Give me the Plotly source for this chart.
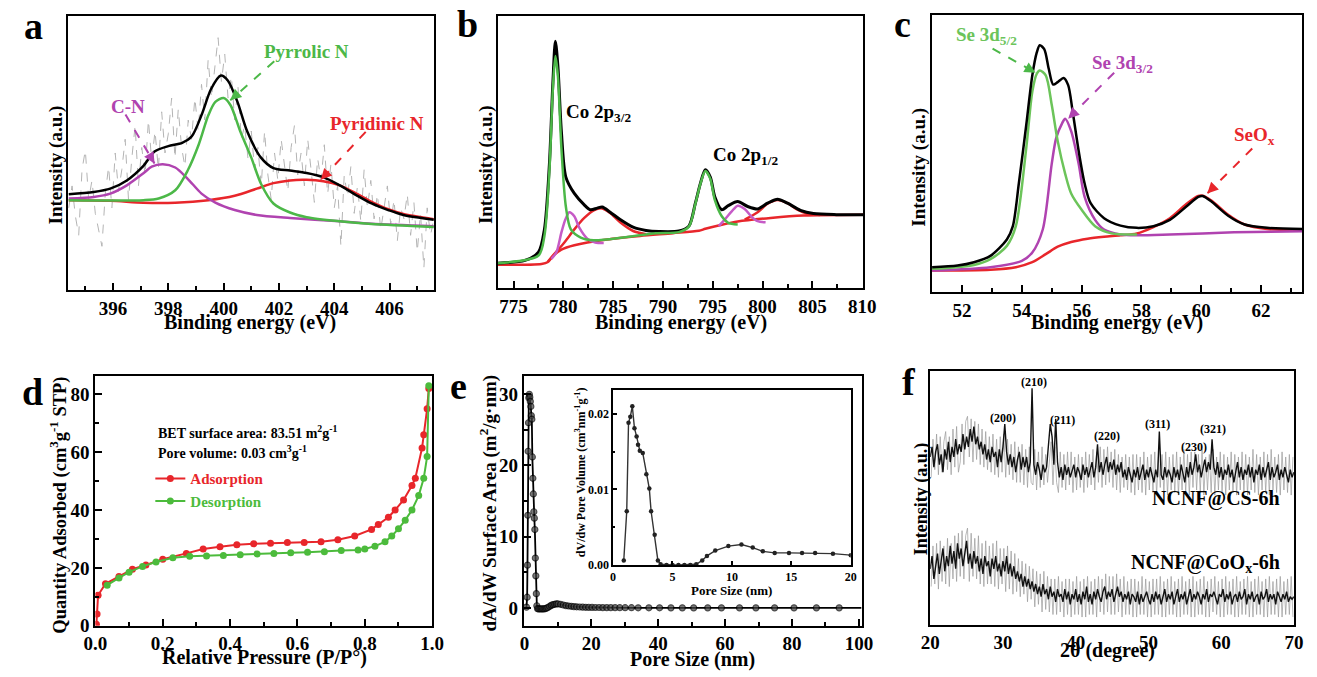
import plotly.graph_objects as go

W, H = 1317, 677
SERIF = "Liberation Serif, Times New Roman, serif"
GREEN = "#4cb848"
MAGENTA = "#b043b0"
RED = "#e8262b"

# ---------------- (a) N 1s ----------------
n1s_raw_start, n1s_raw_step = 394.4, 0.12
n1s_raw = [30, 38, 27, 20, 44, 51, 33, 40, 28, 22, 16, 35, 45, 30, 50, 36, 44, 55, 33, 48,
           60, 38, 52, 42, 62, 47, 58, 44, 65, 50, 57, 70, 48, 66, 52, 45, 62, 55, 70, 58,
           75, 62, 84, 70, 80, 92, 76, 86, 70, 78, 62, 74, 55, 60, 48, 58, 44, 52, 38, 58,
           42, 33, 50, 40, 55, 45, 36, 52, 60, 42, 50, 38, 55, 44, 32, 48, 40, 53, 35, 46,
           30, 38, 16, 42, 34, 45, 28, 38, 25, 44, 30, 40, 26, 35, 22, 30, 38, 24, 33, 18,
           30, 26, 35, 20, 32, 14, 28, 8, 30, 20, 26]
n1s_env_x = [394.4, 395.3, 395.9, 396.5, 397.1, 397.5, 398.0, 398.5, 398.85, 399.2, 399.55, 399.9,
             400.15, 400.5, 400.85, 401.35, 401.8, 402.4, 403.0, 403.6, 404.2, 404.8, 405.35,
             405.95, 406.5, 407.6]
n1s_env_y = [35.0, 35.8, 37.0, 40.0, 45.3, 50.5, 52.5, 53.7, 56.1, 63.8, 73.4, 78.2,
             76.4, 68.6, 57.9, 48.3, 44.5, 43.6, 42.7, 41.2, 38.2, 34.6, 31.6, 29.2, 27.4, 25.7]
pyrrolic_x = [394.4, 397.1, 397.65, 398.25, 398.7, 399.1, 399.45, 399.7, 400.0, 400.25, 400.6,
              401.0, 401.35, 401.8, 402.4, 403.0, 404.2, 405.35, 407.6]
pyrrolic_y = [32.8, 32.8, 33.4, 36.4, 43.6, 53.1, 63.8, 68.6, 70.0, 67.4, 57.9,
              48.3, 38.8, 31.6, 28.3, 26.6, 25.1, 24.1, 23.0]
cn_x = [394.4, 395.3, 395.9, 396.5, 397.1, 397.4, 397.8, 398.25, 398.7, 399.2, 399.7, 400.4,
        401.2, 402.4, 404.2, 405.35, 407.6]
cn_y = [33.4, 34.0, 35.2, 38.2, 42.6, 45.0, 45.9, 44.7, 40.6, 35.2, 31.9, 29.2,
        27.4, 26.3, 25.1, 24.2, 23.3]
pyridinic_x = [394.4, 395.9, 397.1, 398.25, 399.45, 400.4, 401.2, 401.8, 402.4, 403.0, 403.6,
               404.2, 404.8, 405.35, 405.95, 406.5, 407.6]
pyridinic_y = [32.8, 32.6, 31.9, 31.9, 32.8, 34.4, 37.0, 39.0, 40.0, 40.2, 39.7,
               38.2, 35.2, 32.2, 29.5, 27.8, 25.9]

# ---------------- (b) Co 2p ----------------
co_env_x = [773.4, 776.15, 777.5, 778.1, 778.6, 778.95, 779.2, 779.45, 779.8, 780.25, 781.1,
            782.1, 782.7, 783.4, 783.9, 784.7, 785.7, 787.0, 788.3, 789.6, 791.6, 792.6,
            793.25, 793.75, 794.25, 794.75, 795.2, 795.9, 796.55, 797.5, 798.5, 799.5,
            800.5, 801.5, 802.5, 803.8, 805.1, 807.4, 810.1]
co_env_y = [9.2, 10.2, 13.2, 21.6, 45.6, 75.6, 90.6, 81.6, 57.6, 40.8, 34.8,
            30.6, 28.8, 29.4, 29.8, 27.9, 25.2, 22.4, 21.2, 20.8, 21.0, 22.8,
            31.2, 38.4, 43.5, 40.8, 33.6, 28.8, 30.3, 31.8, 30.0, 29.1,
            31.2, 32.7, 31.2, 28.6, 27.4, 27.0, 27.0]
co_main_x = [773.4, 777.5, 778.1, 778.6, 778.95, 779.2, 779.45, 779.8, 780.25, 780.75, 781.75,
             783.05, 786.0, 789.3, 791.6, 792.6, 793.25, 793.75, 794.25, 794.75, 795.2,
             795.9, 796.55, 797.5]
co_main_y = [9.2, 12.0, 19.2, 43.2, 73.2, 85.2, 78.0, 51.6, 30.0, 21.6, 18.6,
             17.6, 18.6, 20.2, 20.6, 22.6, 31.0, 38.2, 43.0, 40.2, 32.4,
             26.4, 24.0, 23.4]
co_sat1_x = [778.8, 779.3, 779.8, 780.2, 780.6, 781.1, 781.6, 782.4, 783.2, 784.05]
co_sat1_y = [10.8, 13.2, 20.4, 25.2, 27.9, 26.4, 22.2, 18.2, 16.8, 16.6]
co_sat2_x = [795.6, 796.2, 796.9, 797.5, 798.2, 798.85, 799.5, 800.3]
co_sat2_y = [22.8, 25.2, 28.2, 30.3, 29.1, 26.4, 24.6, 24.2]
co_bg_x = [773.4, 777.8, 778.45, 778.95, 779.8, 781.1, 784.4, 787.7, 791.0, 793.6, 794.25,
           795.9, 797.5, 800.8, 804.1, 810.1]
co_bg_y = [8.6, 8.9, 9.6, 11.8, 14.2, 15.8, 17.9, 19.2, 20.2, 21.1, 21.8,
           23.3, 24.5, 25.8, 26.7, 27.0]
co_shk1_x = [778.45, 779.1, 780.1, 781.1, 782.1, 783.05, 783.9, 784.7, 785.7, 787.0, 788.3]
co_shk1_y = [9.8, 12.6, 16.8, 21.6, 25.8, 28.6, 29.3, 27.6, 24.2, 21.0, 19.8]
co_shk2_x = [798.2, 799.5, 800.5, 801.5, 802.5, 803.5, 804.4, 805.75]
co_shk2_y = [25.2, 27.9, 31.0, 32.4, 31.2, 28.8, 27.4, 26.9]

# ---------------- (c) Se 3d ----------------
se_env_x = [51.0, 51.85, 52.4, 52.95, 53.5, 53.7, 53.9, 54.15, 54.35, 54.5, 54.6, 54.75, 54.9,
            55.05, 55.2, 55.4, 55.55, 55.7, 55.9, 56.1, 56.3, 56.75, 57.3, 57.85, 58.4, 58.95,
            59.5, 59.9, 60.05, 60.35, 60.9, 61.45, 62.2, 63.4]
se_env_y = [8.9, 9.5, 10.7, 13.0, 18.9, 23.7, 39.1, 60.4, 78.1, 86.4, 89.0, 87.6, 80.5,
            74.8, 75.7, 77.2, 74.6, 65.1, 50.9, 39.1, 32.0, 26.6, 23.9, 23.1, 23.7, 26.0,
            30.8, 34.3, 34.6, 32.5, 27.5, 24.3, 23.1, 22.7]
se52_x = [51.0, 52.4, 52.95, 53.5, 53.8, 54.15, 54.35, 54.5, 54.6, 54.8, 55.0, 55.2, 55.45,
          55.65, 56.0, 56.45, 57.0, 57.85]
se52_y = [8.3, 9.7, 11.8, 16.6, 23.7, 52.1, 72.2, 78.7, 79.9, 78.1, 67.5, 54.4, 42.6,
          35.5, 29.6, 23.7, 21.1, 20.7]
se32_x = [51.0, 52.95, 54.0, 54.35, 54.7, 55.0, 55.15, 55.35, 55.45, 55.65, 55.9, 56.1, 56.45,
          56.75, 57.3, 57.85, 58.95, 60.05, 61.1, 63.4]
se32_y = [7.7, 8.9, 11.2, 14.2, 22.5, 46.2, 55.6, 60.9, 62.5, 58.0, 46.2, 34.3, 26.0,
          22.5, 20.7, 20.4, 20.7, 21.1, 21.5, 21.9]
seox_x = [51.0, 52.95, 53.8, 54.35, 54.8, 55.2, 55.65, 56.2, 56.75, 57.3, 57.85, 58.4, 58.95,
          59.5, 59.9, 60.05, 60.35, 60.9, 61.45, 62.2, 63.4]
seox_y = [7.7, 8.0, 8.9, 10.7, 13.6, 16.3, 18.0, 19.2, 19.9, 20.4, 21.1, 23.4, 26.6,
          31.7, 34.6, 34.7, 32.9, 27.8, 24.3, 22.7, 22.2]

# ---------------- (d) N2 isotherm ----------------
ads_p = [0.003, 0.005, 0.008, 0.03, 0.07, 0.11, 0.15, 0.20, 0.27, 0.32, 0.37, 0.42, 0.47, 0.52,
         0.57, 0.62, 0.67, 0.72, 0.77, 0.82, 0.84, 0.87, 0.89, 0.915, 0.94, 0.95, 0.97, 0.975,
         0.985, 0.99]
ads_q = [0.5, 4, 10.5, 14.5, 17, 19.5, 21, 23, 25, 26.5, 27.3, 28, 28.3, 28.5,
         28.8, 28.8, 29, 29.7, 31, 33.3, 35, 37.5, 40, 43.5, 48.5, 51, 61.5, 66,
         75, 82]
des_p = [0.99, 0.985, 0.975, 0.96, 0.94, 0.92, 0.90, 0.88, 0.86, 0.83, 0.80, 0.78, 0.73, 0.68,
         0.63, 0.58, 0.53, 0.48, 0.43, 0.38, 0.33, 0.28, 0.23, 0.18, 0.14, 0.10, 0.07, 0.035]
des_q = [83, 58.5, 51, 45, 40, 36.5, 33.5, 31, 29, 27.5, 26.5, 26.2, 26, 25.6,
         25.4, 25.2, 25, 24.8, 24.5, 24.3, 24.1, 24, 23.5, 22, 20.5, 18.5, 16.5, 14]

# ---------------- (e) pore size distribution ----------------
pore_x = [0.6, 0.8, 0.9, 1.0, 1.1, 1.2, 1.3, 1.45, 1.6, 1.75, 1.9, 2.05, 2.2, 2.35, 2.5, 2.65,
          2.8, 2.95, 3.1, 3.25, 3.4, 3.55, 3.7, 3.9, 4.2, 4.6, 5.0, 5.4, 5.8, 6.2, 6.6, 7.0,
          7.5, 8.0, 8.5, 9.0, 9.5, 10.0, 10.8, 11.6, 12.4, 13.2, 14.0, 14.8, 15.6, 16.5, 17.4,
          18.3, 19.2, 20.2, 21.2, 22.3, 23.4, 24.6, 25.8, 27.1, 28.5, 30.1, 32.0, 34.0, 37.2,
          40.4, 43.8, 47.2, 50.6, 54.8, 58.9, 64.3, 69.2, 74.8, 80.6, 87.3, 94.1, 100.8]
pore_area = [0.1, 1.5, 6, 13, 22, 26, 29.5, 30, 29.6, 29, 28.3, 27, 26.5, 21.2, 18.2, 16,
             13.5, 12.6, 11, 7, 4.5, 2, 0.3, -0.1, -0.15, -0.15, -0.15, -0.15, -0.15, -0.1, -0.05, 0.05,
             0.2, 0.35, 0.45, 0.5, 0.55, 0.55, 0.5, 0.4, 0.32, 0.26, 0.22, 0.18, 0.15, 0.12, 0.1,
             0.08, 0.07, 0.06, 0.05, 0.05, 0.04, 0.04, 0.03, 0.03, 0.02, 0.02, 0.02, 0.01, 0.01,
             0.01, 0, 0, 0, 0, 0, 0, 0, 0, 0, 0, 0, 0]
inset_x = [0.9, 1.15, 1.3, 1.45, 1.62, 1.8, 1.98, 2.1, 2.25, 2.5, 2.8, 3.05, 3.2, 3.5, 3.77,
           4.0, 4.5, 5.0, 5.5, 6.0, 6.5, 7.0, 7.5, 7.9, 8.6, 9.7, 10.8, 11.75, 12.6, 13.6,
           14.8, 15.9, 17.0, 18.5, 20.0]
inset_y = [0.0006, 0.0071, 0.0188, 0.0196, 0.0210, 0.0181, 0.0170, 0.0159, 0.0151, 0.0148,
           0.0120, 0.0101, 0.0071, 0.0040, 0.0006, 0.0001, 0.0, 0.0, 0.0, 0.0,
           0.0, 0.0001, 0.0006, 0.0012, 0.0019, 0.0025, 0.0027, 0.0023, 0.0018, 0.0016,
           0.0016, 0.0016, 0.0016, 0.0015, 0.0013]

# ---------------- (f) XRD ----------------
# counts on a 0.25 deg grid starting at 20 deg, plus an interleaved scan offset by 0.125 deg
xrd_start, xrd_step = 20.0, 0.25
xrd_cs = [66, 70, 62, 68, 71, 63, 67, 60, 69, 65, 72, 64, 70, 66, 73, 67, 71, 68, 75, 69,
          74, 70, 77, 72, 78, 71, 74, 69, 72, 67, 71, 65, 69, 64, 70, 66, 68, 62, 69, 64,
          70, 79, 68, 63, 67, 62, 66, 60, 65, 68, 61, 66, 62, 66, 60, 64, 93, 63, 59, 64,
          61, 57, 63, 60, 62, 70, 79, 74, 63, 81, 64, 58, 62, 57, 63, 59, 62, 58, 61, 63,
          58, 62, 60, 57, 63, 59, 62, 58, 61, 64, 58, 62, 71, 60, 64, 59, 63, 66, 60, 64,
          61, 65, 59, 63, 60, 64, 58, 61, 57, 62, 59, 56, 61, 58, 62, 57, 60, 63, 57, 61,
          58, 62, 59, 56, 61, 58, 76, 59, 57, 62, 58, 61, 59, 56, 62, 58, 61, 57, 63, 59,
          56, 62, 58, 64, 59, 62, 67, 60, 63, 58, 62, 65, 60, 64, 61, 73, 62, 59, 64, 58,
          62, 57, 61, 59, 63, 58, 61, 56, 60, 64, 58, 62, 57, 61, 59, 63, 58, 62, 56, 61,
          59, 63, 57, 62, 58, 61, 64, 57, 62, 58, 60, 63, 57, 61, 58, 62, 59, 56, 61, 58,
          60]
xrd_coox = [22, 27, 18, 24, 28, 20, 25, 30, 21, 27, 23, 31, 24, 29, 22, 32, 26, 30, 23, 28,
            33, 24, 28, 22, 29, 24, 27, 21, 26, 20, 27, 23, 25, 19, 26, 22, 27, 21, 24, 19,
            25, 21, 27, 20, 24, 19, 23, 18, 21, 17, 20, 15, 19, 15, 18, 14, 17, 13, 16, 12,
            15, 11, 16, 12, 14, 10, 15, 11, 13, 9, 14, 11, 12, 9, 14, 10, 13, 8, 12, 10,
            14, 9, 12, 8, 13, 10, 15, 9, 12, 8, 13, 10, 14, 11, 9, 13, 15, 10, 13, 11,
            14, 9, 12, 15, 11, 13, 9, 12, 10, 13, 8, 12, 11, 9, 13, 8, 12, 9, 11, 13,
            10, 8, 12, 9, 13, 10, 12, 8, 11, 14, 9, 12, 10, 13, 8, 11, 14, 9, 12, 10,
            13, 8, 11, 14, 9, 12, 10, 13, 11, 8, 12, 10, 14, 9, 12, 11, 13, 10, 8, 12,
            11, 14, 9, 12, 10, 13, 8, 11, 12, 9, 13, 10, 11, 14, 8, 12, 10, 13, 9, 11,
            12, 8, 13, 10, 11, 14, 9, 12, 10, 12, 8, 13, 11, 9, 12, 10, 13, 9, 11, 10,
            11]
xrd_fine_start = 20.125
xrd_cs_fine = [58, 73, 61, 75, 59, 74, 60, 72, 76, 61, 74, 59, 77, 62, 78, 60, 64, 79, 63, 80,
               82, 66, 81, 64, 80, 65, 79, 63, 77, 62, 76, 61, 74, 60, 75, 59, 73, 58, 74, 60,
               75, 58, 73, 59, 71, 57, 72, 56, 70, 56, 71, 55, 69, 54, 70, 56, 55, 69, 53, 68,
               54, 70, 55, 67, 56, 66, 72, 55, 70, 56, 52, 68, 54, 67, 53, 68, 55, 68, 52, 66,
               53, 67, 54, 66, 52, 68, 54, 67, 55, 69, 53, 68, 56, 70, 54, 69, 55, 70, 56, 68,
               54, 69, 53, 67, 52, 66, 54, 67, 53, 66, 52, 67, 51, 67, 53, 66, 52, 68, 51, 66,
               53, 67, 52, 68, 51, 66, 54, 67, 52, 68, 51, 66, 53, 67, 52, 68, 51, 66, 53, 69,
               52, 67, 51, 68, 54, 68, 53, 67, 52, 69, 51, 66, 53, 67, 52, 69, 51, 66, 53, 68,
               52, 67, 51, 66, 53, 68, 52, 67, 51, 66, 53, 68, 52, 67, 51, 66, 53, 69, 52, 67,
               51, 66, 53, 68, 52, 67, 51, 69, 53, 66, 52, 67, 51, 68, 53, 66, 52, 67, 51, 66]
xrd_coox_fine = [15, 31, 16, 32, 14, 33, 17, 31, 16, 34, 15, 32, 18, 35, 17, 36, 19, 37, 18, 35,
                 38, 17, 36, 19, 34, 18, 35, 16, 32, 15, 33, 16, 31, 16, 32, 15, 33, 14, 30, 16,
                 30, 13, 31, 14, 29, 12, 28, 13, 26, 11, 25, 12, 24, 9, 23, 10, 22, 7, 21, 8,
                 20, 5, 21, 6, 19, 5, 18, 4, 18, 4, 19, 5, 17, 3, 18, 4, 18, 3, 17, 4,
                 19, 4, 17, 3, 18, 3, 19, 4, 17, 4, 18, 3, 19, 5, 18, 4, 20, 5, 19, 4,
                 19, 4, 20, 5, 18, 3, 19, 4, 17, 4, 18, 3, 18, 3, 17, 4, 19, 4, 18, 3,
                 17, 3, 18, 4, 18, 4, 19, 3, 17, 3, 18, 4, 19, 4, 17, 3, 18, 3, 19, 4,
                 17, 4, 18, 3, 19, 3, 17, 4, 18, 4, 19, 3, 17, 3, 18, 5, 19, 4, 17, 3,
                 18, 3, 19, 4, 17, 4, 18, 3, 19, 3, 17, 4, 18, 4, 19, 3, 17, 3, 18, 4,
                 19, 4, 17, 3, 18, 3, 19, 4, 17, 4, 18, 3, 19, 3, 17, 4, 18, 4, 19, 3]
xrd_hkl = ["(200)", "(210)", "(211)", "(220)", "(311)", "(230)", "(321)"]
xrd_hkl_pos = [30.07, 34.25, 38.2, 44.3, 51.2, 56.3, 58.85]
xrd_hkl_lvl = [81.3, 95.5, 80.4, 74.2, 79.1, 70.1, 77.0]


def px(x):
    return x / W


def py(y):
    return 1 - y / H


def bold(size, color="black"):
    return dict(family=SERIF, size=size, color=color, weight="bold")


def frame(rng, domain, anchor, **kw):
    ax = dict(range=rng, domain=domain, anchor=anchor, showline=True, linecolor="black",
              linewidth=2, mirror=True, zeroline=False, showgrid=False, ticks="inside",
              ticklen=7, tickwidth=1.5, tickcolor="black", tickfont=bold(19))
    ax.update(kw)
    return ax


def minor(step, length=4):
    return dict(ticks="inside", ticklen=length, tickwidth=1.5, tickcolor="black", dtick=step,
                showgrid=False)


def curve(x, y, color, xa, ya, width=2.5, spline=True):
    return go.Scatter(x=x, y=y, xaxis=xa, yaxis=ya, mode="lines", showlegend=False,
                      hoverinfo="skip",
                      line=dict(color=color, width=width,
                                shape="spline" if spline else "linear", smoothing=0.8))


fig = go.Figure()

# (a)
n1s_raw_x = [n1s_raw_start + i * n1s_raw_step for i in range(len(n1s_raw))]
fig.add_trace(go.Scatter(x=n1s_raw_x, y=n1s_raw, xaxis="x", yaxis="y", mode="lines",
                         showlegend=False, line=dict(color="#b4b4b4", width=1, dash="dash")))
fig.add_trace(curve(pyridinic_x, pyridinic_y, RED, "x", "y"))
fig.add_trace(curve(cn_x, cn_y, MAGENTA, "x", "y"))
fig.add_trace(curve(pyrrolic_x, pyrrolic_y, GREEN, "x", "y"))
fig.add_trace(curve(n1s_env_x, n1s_env_y, "black", "x", "y"))

# (b)
fig.add_trace(curve(co_bg_x, co_bg_y, RED, "x2", "y2"))
fig.add_trace(curve(co_shk1_x, co_shk1_y, RED, "x2", "y2"))
fig.add_trace(curve(co_shk2_x, co_shk2_y, RED, "x2", "y2"))
fig.add_trace(curve(co_sat1_x, co_sat1_y, "#c65ac6", "x2", "y2"))
fig.add_trace(curve(co_sat2_x, co_sat2_y, "#c65ac6", "x2", "y2"))
fig.add_trace(curve(co_env_x, co_env_y, "black", "x2", "y2", width=3))
fig.add_trace(curve(co_main_x, co_main_y, GREEN, "x2", "y2"))

# (c)
fig.add_trace(curve(seox_x, seox_y, RED, "x3", "y3"))
fig.add_trace(curve(se32_x, se32_y, MAGENTA, "x3", "y3"))
fig.add_trace(curve(se52_x, se52_y, "#6cc45a", "x3", "y3"))
fig.add_trace(curve(se_env_x, se_env_y, "black", "x3", "y3"))

# (d)
fig.add_trace(go.Scatter(x=ads_p, y=ads_q, xaxis="x4", yaxis="y4", mode="lines+markers",
                         name="<span style='color:%s'>Adsorption</span>" % RED,
                         line=dict(color=RED, width=2),
                         marker=dict(symbol="circle", size=7, color=RED)))
fig.add_trace(go.Scatter(x=des_p, y=des_q, xaxis="x4", yaxis="y4", mode="lines+markers",
                         name="<span style='color:#4cbb3c'>Desorption</span>",
                         line=dict(color="#4cbb3c", width=2),
                         marker=dict(symbol="circle", size=7, color="#4cbb3c")))

# (e)
pore_marker = [6] * (len(pore_x) - 1) + [0]
fig.add_trace(go.Scatter(x=pore_x, y=pore_area, xaxis="x5", yaxis="y5", mode="lines+markers",
                         showlegend=False, line=dict(color="black", width=1.8),
                         marker=dict(symbol="circle", size=pore_marker, color="#444444",
                                     line=dict(color="black", width=1.2))))
fig.add_trace(go.Scatter(x=inset_x, y=inset_y, xaxis="x7", yaxis="y7", mode="lines+markers",
                         showlegend=False, line=dict(color="#333333", width=1.4),
                         marker=dict(symbol="circle", size=4.5, color="#222222")))

# (f)
xrd_x = [xrd_start + i * xrd_step for i in range(len(xrd_cs))]
xrd_x_fine = [xrd_fine_start + i * xrd_step for i in range(len(xrd_cs_fine))]
fig.add_trace(curve(xrd_x_fine, xrd_cs_fine, "#9a9a9a", "x6", "y6", width=0.7, spline=False))
fig.add_trace(curve(xrd_x_fine, xrd_coox_fine, "#9a9a9a", "x6", "y6", width=0.7, spline=False))
fig.add_trace(curve(xrd_x, xrd_cs, "#111111", "x6", "y6", width=1.4, spline=False))
fig.add_trace(curve(xrd_x, xrd_coox, "#111111", "x6", "y6", width=1.4, spline=False))

hidden_y = dict(showticklabels=False, ticks="")

fig.update_layout(
    width=W, height=H, margin=dict(l=0, r=0, t=0, b=0),
    paper_bgcolor="white", plot_bgcolor="white",
    font=bold(16),
    showlegend=True,
    legend=dict(x=px(141), y=py(470), xanchor="left", yanchor="top",
                bgcolor="rgba(0,0,0,0)", font=bold(15), itemwidth=30, tracegroupgap=0),
    xaxis=frame([394.37, 407.6], [px(57), px(430)], "y", dtick=2, tick0=396, minor=minor(1)),
    yaxis=frame([0, 100], [py(295), py(16)], "x", **hidden_y),
    xaxis2=frame([773.4, 810.1], [px(495), px(867.7)], "y2", dtick=5, tick0=775,
                 minor=minor(2.5)),
    yaxis2=frame([0, 100], [py(293), py(16)], "x2", **hidden_y),
    xaxis3=frame([50.98, 63.37], [px(937.3), px(1315)], "y3", dtick=2, tick0=52,
                 minor=minor(1)),
    yaxis3=frame([0, 100], [py(296.7), py(15)], "x3", **hidden_y),
    xaxis4=frame([0, 1.0], [px(85), px(428.3)], "y4", dtick=0.2, tick0=0, tickformat=".1f",
                 minor=minor(0.1)),
    yaxis4=frame([0, 86.2], [py(636), py(382.7)], "x4", dtick=20, tick0=0, minor=minor(10)),
    xaxis5=frame([-0.2, 100.8], [px(521.7), px(866)], "y5", dtick=20, tick0=0,
                 minor=minor(10)),
    yaxis5=frame([-2.5, 32.5], [py(636), py(382.7)], "x5", dtick=10, tick0=0, minor=minor(5)),
    xaxis6=frame([20, 70], [px(936), px(1306.7)], "y6", dtick=10, tick0=20, ticks=""),
    yaxis6=frame([0, 100], [py(635), py(376.7)], "x6", **hidden_y),
    xaxis7=frame([0, 20], [px(612.7), px(855)], "y7", dtick=5, tick0=0, ticklen=4,
                 linewidth=1.5, tickfont=bold(12)),
    yaxis7=frame([0, 0.0232], [py(574.3), py(396)], "x7", dtick=0.01, tick0=0,
                 tickformat=".2f", ticklen=4, linewidth=1.5, tickfont=bold(12),
                 minor=minor(0.005, 2)),
)


def note(text, x, y, size=19, color="black", angle=0, xanchor="center"):
    return dict(text=text, x=px(x), y=py(y), xref="paper", yref="paper", showarrow=False,
                font=bold(size, color), textangle=angle, xanchor=xanchor, yanchor="middle")


notes = [
    # panel letters
    note("a", 22, 26, 38), note("b", 464, 24, 38), note("c", 908, 24, 38),
    note("d", 21, 398, 38), note("e", 455, 392, 38), note("f", 914, 388, 38),
    # axis titles
    note("Binding energy (eV)", 243, 328, 20), note("Binding energy (eV)", 682, 328, 20),
    note("Binding energy (eV)", 1126, 328, 20),
    note("Intensity (a.u.)", 45, 168, 19, angle=-90),
    note("Intensity (a.u.)", 483, 167, 19, angle=-90),
    note("Intensity (a.u.)", 925, 170, 19, angle=-90),
    note("Relative Pressure (P/P°)", 257, 668, 20),
    note("Quantity Adsorbed (cm<sup>3</sup>g<sup>-1</sup> STP)", 48, 514, 18.5, angle=-90),
    note("Pore Size (nm)", 694, 670, 20),
    note("dA/dW Surface Area (m<sup>2</sup>/g·nm)", 486, 511, 19, angle=-90),
    note("2θ (degree)", 1117, 661, 20),
    note("Intensity (a.u.)", 927, 507, 18, angle=-90),
    note("Pore Size (nm)", 733, 600, 13),
    note("dV/dw Pore Volume (cm<sup>3</sup>nm<sup>-1</sup>g<sup>-1</sup>)", 579, 480, 12,
         angle=-90),
    # peak labels
    note("Pyrrolic N", 300, 52, 19, GREEN), note("C-N", 118, 108, 19, MAGENTA),
    note("Pyridinic N", 372, 126, 19, RED),
    note("Co 2p<sub>3/2</sub>", 563, 115, 19, xanchor="left"),
    note("Co 2p<sub>1/2</sub>", 713, 159, 19, xanchor="left"),
    note("Se 3d<sub>5/2</sub>", 993, 37, 19, "#6cc45a"),
    note("Se 3d<sub>3/2</sub>", 1132, 65, 19, MAGENTA),
    note("SeO<sub>x</sub>", 1267, 138, 19, RED),
    # isotherm text
    note("BET surface area: 83.51 m<sup>2</sup>g<sup>-1</sup>", 147, 439, 14, xanchor="left"),
    note("Pore volume: 0.03 cm<sup>3</sup>g<sup>-1</sup>", 147, 459, 14, xanchor="left"),
    # XRD sample labels
    note("NCNF@CS-6h", 1295, 507, 20, xanchor="right"),
    note("NCNF@CoO<sub>x</sub>-6h", 1295, 573, 20, xanchor="right"),
]

for lab, xv, yv in zip(xrd_hkl, xrd_hkl_pos, xrd_hkl_lvl):
    notes.append(dict(text=lab, x=xv, y=yv, xref="x6", yref="y6", showarrow=False,
                      font=bold(12), xanchor="center", yanchor="middle"))

# dashed pointer arrows: (axis suffix, tip x, tip y, tail dx px, tail dy px, colour)
pointers = [
    ("", 400.24, 69.2, 44, -39, GREEN),
    ("", 397.5, 46.2, -29, -49, MAGENTA),
    ("", 403.51, 40.2, 45, -48, RED),
    ("3", 54.46, 79.1, -43, -24, GREEN),
    ("3", 55.55, 62.5, 46, -46, MAGENTA),
    ("3", 60.2, 35.5, 45, -45, RED),
]
shapes = []
for sfx, tx, ty, dx, dy, col in pointers:
    shapes.append(dict(type="line", xref="x" + sfx, yref="y" + sfx, xsizemode="pixel",
                       ysizemode="pixel", xanchor=tx, yanchor=ty, x0=dx, y0=-dy, x1=0, y1=0,
                       line=dict(color=col, width=2, dash="dash")))
    scale = 9.0 / (dx * dx + dy * dy) ** 0.5
    notes.append(dict(text="", x=tx, y=ty, xref="x" + sfx, yref="y" + sfx, showarrow=True,
                      ax=dx * scale, ay=dy * scale, arrowhead=2, arrowsize=1.1,
                      arrowwidth=2, arrowcolor=col, standoff=0))

fig.update_layout(annotations=notes, shapes=shapes)
fig.write_html("out.html")
